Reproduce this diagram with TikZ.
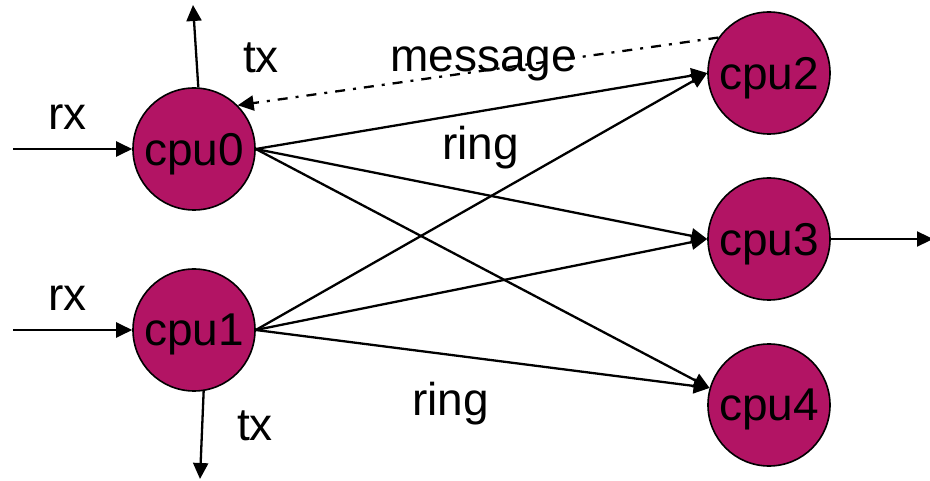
\documentclass[tikz,border=0pt]{standalone}
\usepackage{fontspec}
\setmainfont{Liberation Sans}
\usetikzlibrary{arrows.meta}
\definecolor{cpufill}{RGB}{178,20,100}
\tikzset{
  cpu/.style={circle, draw=black, line width=1.6pt, fill=cpufill, minimum size=122pt, inner sep=0pt, text depth=0pt, font=\fontsize{46}{55}\selectfont},
  lbl/.style={anchor=base west, inner sep=0pt, font=\fontsize{46}{55}\selectfont},
  conn/.style={line width=2.3pt, -{Triangle[length=16pt,width=15pt]}},
  msg/.style={line width=2.3pt, dash pattern=on 10pt off 8pt on 3pt off 8pt, -{Triangle[length=16pt,width=15pt]}}
}
\begin{document}
\begin{tikzpicture}[x=1pt,y=-1pt]
\useasboundingbox[fill=white] (0,0) rectangle (930,481);
\node[cpu] (cpu0) at (194,149) {cpu0};
\node[cpu] (cpu1) at (194,330) {cpu1};
\node[cpu] (cpu2) at (769,73) {cpu2};
\node[cpu] (cpu3) at (769,239) {cpu3};
\node[cpu] (cpu4) at (769,405) {cpu4};
\coordinate (rx0in) at (13,149);
\coordinate (rx1in) at (13,330);
\coordinate (tx0out) at (193,5);
\coordinate (tx1out) at (200,479);
\coordinate (cpu3out) at (933,239);
\node[lbl] (rxl0) at (48,130) {rx};
\node[lbl] (rxl1) at (48,311) {rx};
\node[lbl] (txl0) at (243,73) {tx};
\node[lbl] (txl1) at (237,440) {tx};
\node[lbl] (msgl) at (390,72) {message};
\node[lbl] (ring0) at (442,160) {ring};
\node[lbl] (ring1) at (412,415) {ring};
\draw[conn] (rx0in) -- (cpu0.west);
\draw[conn] (rx1in) -- (cpu1.west);
\draw[conn] (cpu0.86) -- (tx0out);
\draw[conn] (cpu1.-81) -- (tx1out);
\draw[conn] (cpu3.east) -- (cpu3out);
\draw[msg] (cpu2.145) -- (cpu0.45);
\draw[conn] (cpu0.east) -- (cpu2.west);
\draw[conn] (cpu0.east) -- (cpu3.west);
\draw[conn] (cpu0.east) -- (cpu4.164);
\draw[conn] (cpu1.east) -- (cpu2.west);
\draw[conn] (cpu1.east) -- (cpu3.west);
\draw[conn] (cpu1.east) -- (cpu4.164);
\end{tikzpicture}
\end{document}
